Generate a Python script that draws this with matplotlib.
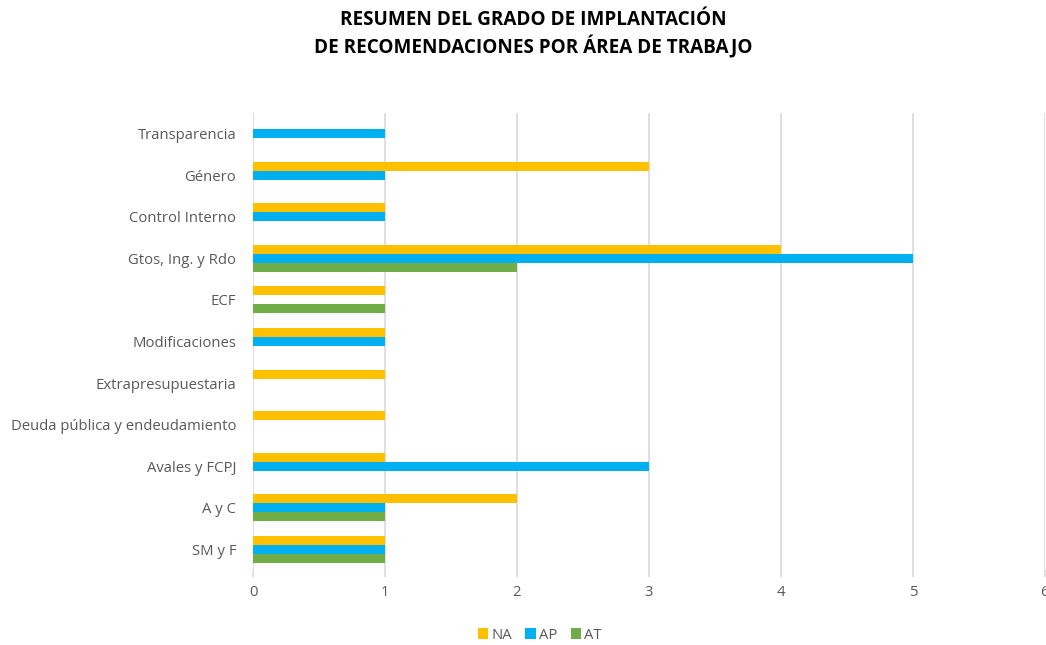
import matplotlib
matplotlib.use("Agg")
import matplotlib.pyplot as plt
import numpy as np

categories = ["SM y F", "A y C", "Avales y FCPJ", "Deuda pública y endeudamiento",
              "Extrapresupuestaria", "Modificaciones", "ECF", "Gtos, Ing. y Rdo",
              "Control Interno", "Género", "Transparencia"]
NA = [1, 2, 1, 1, 1, 1, 1, 4, 1, 3, 0]
AP = [1, 1, 3, 0, 0, 1, 0, 5, 1, 1, 1]
AT = [1, 1, 0, 0, 0, 0, 1, 2, 0, 0, 0]
series_names = ["NA", "AP", "AT"]
colors = ["#FFC000", "#00B0F0", "#70AD47"]
xticks = [0, 1, 2, 3, 4, 5, 6]

plt.rcParams['font.family'] = ['Open Sans', 'DejaVu Sans']

fig = plt.figure(figsize=(10.46, 6.45), dpi=100)
ax = fig.add_axes([0.2419, 0.1163, 0.757, 0.7085])

y = np.arange(len(categories))
h = 0.216
for i, (vals, name, c) in enumerate(zip([NA, AP, AT], series_names, colors)):
    ax.barh(y + (1 - i) * h, vals, height=h, color=c, label=name, zorder=3)

ax.set_xlim(0, 6)
ax.set_ylim(-0.5, len(categories) - 0.5)
ax.set_xticks(xticks)
ax.set_yticks(y)
ax.set_yticklabels(categories)
ax.grid(axis='x', color='#D9D9D9', linewidth=1.2, zorder=0)
for s in ax.spines.values():
    s.set_visible(False)
ax.tick_params(axis='y', length=0, labelsize=10.7, labelcolor='#595959', pad=12)
ax.tick_params(axis='x', length=5, color='#D9D9D9', width=1.2, labelsize=10.7,
               labelcolor='#595959', pad=6)

fig.text(0.51, 0.947, "RESUMEN DEL GRADO DE IMPLANTACIÓN\nDE RECOMENDACIONES POR ÁREA DE TRABAJO",
         ha='center', va='center', fontsize=13.6, fontweight='bold', color='black',
         linespacing=1.3)

fig.legend(loc='center', bbox_to_anchor=(0.516, 0.015), ncol=3, frameon=False,
           handlelength=0.7, handleheight=0.7, handletextpad=0.2, columnspacing=0.9,
           fontsize=10.7, labelcolor='#595959')

fig.savefig("out.png", dpi=100)
